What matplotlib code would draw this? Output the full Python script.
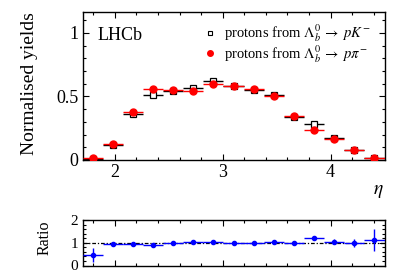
import matplotlib
matplotlib.use('Agg')
import matplotlib.pyplot as plt
import numpy as np
from matplotlib.lines import Line2D
from matplotlib.ticker import MultipleLocator

plt.rcParams['font.family'] = ['Liberation Serif', 'DejaVu Serif']
plt.rcParams['mathtext.fontset'] = 'stix'

####################################################################################################
# data
####################################################################################################
eta_edges = np.linspace(1.7, 4.5, 16)
eta_centres = 0.5 * (eta_edges[1:] + eta_edges[:-1])
eta_halfwidth = 0.5 * (eta_edges[1:] - eta_edges[:-1])

yield_pK = [0.010, 0.115, 0.362, 0.515, 0.545, 0.567, 0.620, 0.580, 0.548, 0.510, 0.337, 0.285, 0.173, 0.080, 0.016]
yield_pK_err = [0.005, 0.010, 0.012, 0.014, 0.014, 0.014, 0.015, 0.014, 0.014, 0.013, 0.012, 0.011, 0.009, 0.006, 0.004]
yield_ppi = [0.015, 0.126, 0.380, 0.560, 0.553, 0.547, 0.602, 0.585, 0.556, 0.500, 0.347, 0.240, 0.165, 0.080, 0.018]
yield_ppi_err = [0.006, 0.011, 0.014, 0.018, 0.017, 0.017, 0.018, 0.017, 0.016, 0.015, 0.013, 0.012, 0.010, 0.007, 0.005]

ratio = [0.46, 0.93, 0.95, 0.92, 0.98, 1.04, 1.03, 0.99, 0.98, 1.02, 0.97, 1.19, 1.05, 1.00, 1.12]
ratio_err = [0.30, 0.08, 0.06, 0.06, 0.06, 0.05, 0.05, 0.05, 0.05, 0.05, 0.06, 0.08, 0.10, 0.18, 0.47]

####################################################################################################
# plot
####################################################################################################
W, H = 407, 276
fig = plt.figure(figsize=(W / 100, H / 100), dpi=100)

def px_box(x0, y0, x1, y1):
    return [x0 / W, 1 - y1 / H, (x1 - x0) / W, (y1 - y0) / H]

ax = fig.add_axes(px_box(82.5, 12, 384.5, 160))
axr = fig.add_axes(px_box(82.5, 220, 384.5, 265.5))

ax.errorbar(eta_centres, yield_pK, xerr=eta_halfwidth, yerr=yield_pK_err, fmt='s',
            mfc='white', mec='black', mew=0.9, ms=5, color='black', elinewidth=1.0,
            capsize=0, zorder=2)
ax.errorbar(eta_centres, yield_ppi, xerr=eta_halfwidth, yerr=yield_ppi_err, fmt='o',
            mfc='red', mec='red', ms=5, color='red', elinewidth=1.0, capsize=0, zorder=3)

ax.set_xlim(1.7, 4.5)
ax.set_ylim(0, 1.165)
ax.xaxis.set_major_locator(MultipleLocator(1))
ax.xaxis.set_minor_locator(MultipleLocator(0.2))
ax.yaxis.set_major_locator(MultipleLocator(0.5))
ax.yaxis.set_minor_locator(MultipleLocator(0.1))
ax.set_yticks([0, 0.5, 1])
ax.set_yticklabels(['0', '0.5', '1'])

ax.text((98 - 82.5) / 302, (160 - 40) / 148, 'LHCb', transform=ax.transAxes,
        fontsize=13, ha='left', va='baseline')

handles = [Line2D([], [], ls='none', marker='s', mfc='white', mec='black', mew=0.8, ms=3.2),
           Line2D([], [], ls='none', marker='o', mfc='red', mec='red', ms=4)]
labels = [r'protons from $\mathit{\Lambda}_b^{\mathit{0}}\;\rightarrow\; pK^{-}$',
          r'protons from $\mathit{\Lambda}_b^{\mathit{0}}\;\rightarrow\; p\pi^{-}$']
ax.legend(handles, labels, loc='upper left', bbox_to_anchor=((205 - 82.5) / 302, (160 - 23) / 148),
          frameon=False, fontsize=10.5, handlelength=0.7, handletextpad=0.6, labelspacing=-0.05,
          borderpad=0, borderaxespad=0)

axr.errorbar(eta_centres, ratio, xerr=eta_halfwidth, yerr=ratio_err, fmt='o',
             mfc='blue', mec='blue', ms=3, color='blue', elinewidth=1.0, capsize=0, zorder=3)
axr.axhline(1, color='black', ls=(0, (3, 1.5, 1, 1.5)), lw=0.9, zorder=2)
axr.set_xlim(1.7, 4.5)
axr.set_ylim(0, 2)
axr.xaxis.set_major_locator(MultipleLocator(1))
axr.xaxis.set_minor_locator(MultipleLocator(0.2))
axr.yaxis.set_major_locator(MultipleLocator(1))
axr.yaxis.set_minor_locator(MultipleLocator(0.2))
axr.set_xticklabels([])

for a, fs in ((ax, 13), (axr, 11)):
    a.tick_params(which='both', direction='in', top=True, right=True, width=0.8, labelsize=fs)
    a.tick_params(which='major', length=4.3, pad=3)
    a.tick_params(which='minor', length=2.4)
    for s in a.spines.values():
        s.set_linewidth(1.0)

fig.text(29 / W, 1 - 84 / H, 'Normalised yields', rotation=90, ha='center', va='center', fontsize=14)
fig.text(45 / W, 1 - 238 / H, 'Ratio', rotation=90, ha='center', va='center', fontsize=11.5)
fig.text(378.5 / W, 1 - 192 / H, r'$\eta$', ha='center', va='center', fontsize=14)

fig.savefig('out.png', dpi=100)
plt.close()
